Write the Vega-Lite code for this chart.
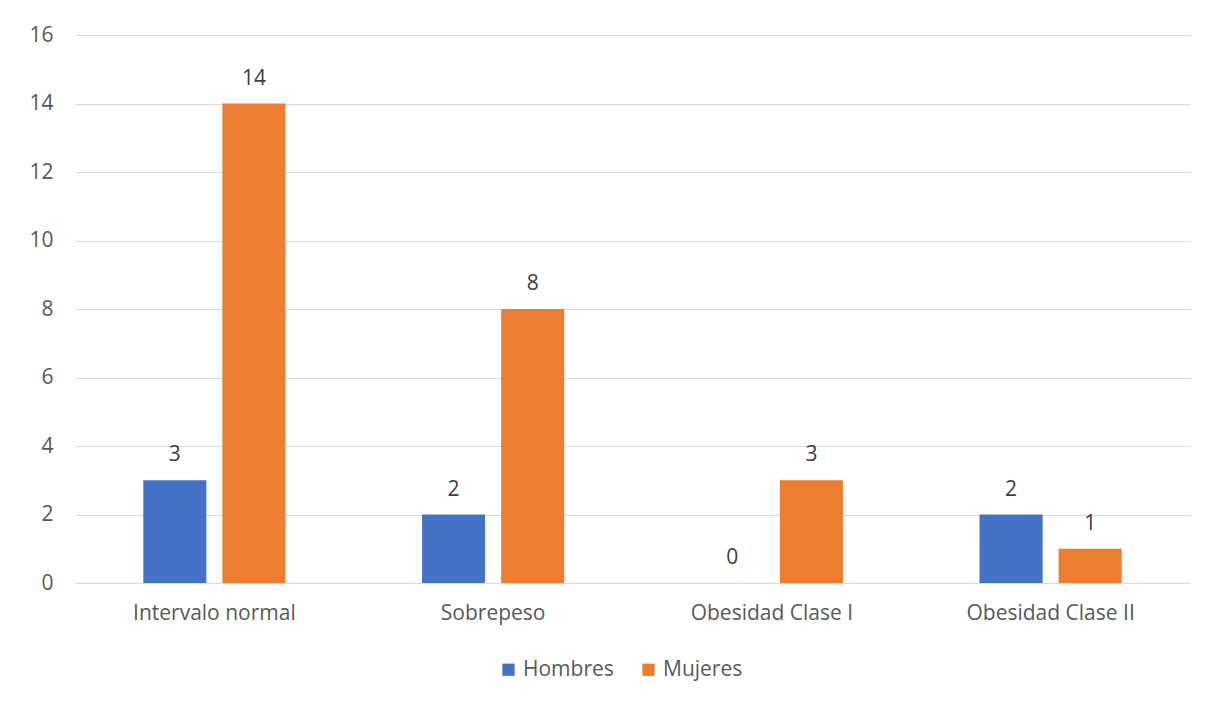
{
  "$schema": "https://vega.github.io/schema/vega-lite/v6.json",
  "width": 1115,
  "height": 548,
  "autosize": {"type": "none"},
  "padding": {"left": 75, "top": 35, "right": 38, "bottom": 127},
  "background": "white",
  "config": {
    "view": {"stroke": null},
    "font": "Open Sans",
    "text": {"font": "Open Sans"}
  },
  "data": {
    "values": [
      {"categoria": "Intervalo normal", "sexo": "Hombres", "n": 3},
      {"categoria": "Intervalo normal", "sexo": "Mujeres", "n": 14},
      {"categoria": "Sobrepeso", "sexo": "Hombres", "n": 2},
      {"categoria": "Sobrepeso", "sexo": "Mujeres", "n": 8},
      {"categoria": "Obesidad Clase I", "sexo": "Hombres", "n": 0},
      {"categoria": "Obesidad Clase I", "sexo": "Mujeres", "n": 3},
      {"categoria": "Obesidad Clase II", "sexo": "Hombres", "n": 2},
      {"categoria": "Obesidad Clase II", "sexo": "Mujeres", "n": 1}
    ]
  },
  "encoding": {
    "x": {
      "field": "categoria",
      "type": "nominal",
      "sort": null,
      "scale": {"paddingInner": 0.49, "paddingOuter": 0.245},
      "axis": {
        "title": null,
        "labelAngle": 0,
        "labelFontSize": 21,
        "labelColor": "#595959",
        "labelPadding": 19,
        "ticks": false,
        "domain": false,
        "grid": false
      }
    },
    "xOffset": {
      "field": "sexo",
      "type": "nominal",
      "scale": {"paddingInner": 0.2025, "paddingOuter": 0}
    },
    "y": {
      "field": "n",
      "type": "quantitative",
      "scale": {"domain": [0, 16], "nice": false},
      "axis": {
        "title": null,
        "values": [0, 2, 4, 6, 8, 10, 12, 14, 16],
        "labelFontSize": 21,
        "labelColor": "#595959",
        "labelPadding": 22,
        "ticks": false,
        "domain": false,
        "gridColor": "#d9d9d9",
        "gridWidth": 1
      }
    }
  },
  "layer": [
    {
      "mark": {"type": "bar"},
      "encoding": {
        "color": {
          "field": "sexo",
          "type": "nominal",
          "scale": {"domain": ["Hombres", "Mujeres"], "range": ["#4472C4", "#ED7D31"]},
          "legend": {
            "title": null,
            "orient": "none",
            "direction": "horizontal",
            "legendX": 423,
            "legendY": 624,
            "symbolType": "square",
            "symbolSize": 150,
            "symbolStrokeWidth": 0,
            "labelFontSize": 21,
            "labelColor": "#595959",
            "labelOffset": 4,
            "columnPadding": 24
          }
        }
      }
    },
    {
      "mark": {"type": "text", "baseline": "alphabetic", "dy": -19, "fontSize": 21, "color": "#404040"},
      "encoding": {
        "text": {"field": "n", "type": "quantitative"}
      }
    }
  ]
}
